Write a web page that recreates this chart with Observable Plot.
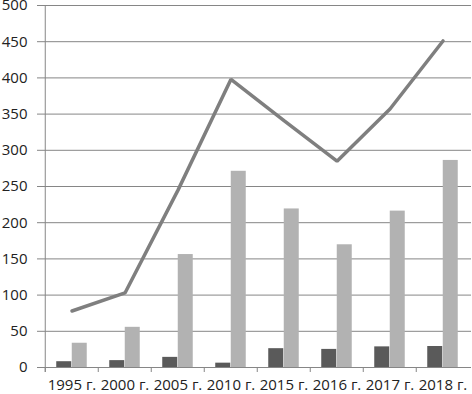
<!DOCTYPE html>
<html>
<head>
<meta charset="utf-8">
<script src="https://cdn.jsdelivr.net/npm/d3@7"></script>
<script src="https://cdn.jsdelivr.net/npm/@observablehq/plot@0.6"></script>
<style>
  html, body { margin: 0; padding: 0; background: #fff; }
  svg { display: block; }
</style>
</head>
<body>
<div id="chart"></div>
<script>
const years = ["1995 г.", "2000 г.", "2005 г.", "2010 г.", "2015 г.", "2016 г.", "2017 г.", "2018 г."];
const seriesDark = [8, 9.5, 14, 6, 26, 25, 28.5, 29];
const seriesLight = [33.5, 55.5, 156, 271, 219, 169.5, 216, 286];
const seriesLine = [78, 103, 245, 398, 341, 285, 357, 451];
const yTicks = [0, 50, 100, 150, 200, 250, 300, 350, 400, 450, 500];

const W = 472, H = 394;
const mL = 43, mR = 1, mT = 5, mB = 27;
const bw = (W - mL - mR) / years.length;
const barW = 15.5;
const gap = (bw - 2 * barW) / 2;

const dark = years.map((c, i) => ({c, v: seriesDark[i]}));
const light = years.map((c, i) => ({c, v: seriesLight[i]}));
const line = years.map((c, i) => ({c, v: seriesLine[i]}));

const chart = Plot.plot({
  width: W,
  height: H,
  marginLeft: mL,
  marginRight: mR,
  marginTop: mT,
  marginBottom: mB,
  style: {fontFamily: "'Open Sans', sans-serif", fontSize: "15px", color: "#222", background: "#fff"},
  x: {type: "band", domain: years, padding: 0, axis: null, label: null},
  y: {domain: [0, 500], axis: null, label: null},
  marks: [
    Plot.ruleY(yTicks, {stroke: "#868686", strokeWidth: 1, strokeOpacity: 1, insetLeft: -6}),
    Plot.barY(dark, {x: "c", y: "v", fill: "#5a5a5a", insetLeft: gap, insetRight: gap + barW}),
    Plot.barY(light, {x: "c", y: "v", fill: "#b2b2b2", insetLeft: gap + barW, insetRight: gap}),
    Plot.line(line, {x: "c", y: "v", stroke: "#7f7f7f", strokeWidth: 3.5, strokeLinejoin: "miter"}),
    Plot.ruleX(years, {x: d => d, dx: -bw / 2, stroke: "#868686", strokeOpacity: 1, insetTop: H - mT - mB, insetBottom: -5}),
    Plot.ruleX(years.slice(0, 1), {x: d => d, dx: -bw / 2, stroke: "#868686", strokeOpacity: 1, insetBottom: -5}),
    Plot.axisY(yTicks, {tickSize: 0, tickPadding: 16, fontSize: 15, fill: "#222", label: null}),
    Plot.axisX({tickSize: 0, tickPadding: 12, fontSize: 15, fill: "#222", label: null})
  ]
});
document.getElementById("chart").appendChild(chart);
</script>
</body>
</html>
